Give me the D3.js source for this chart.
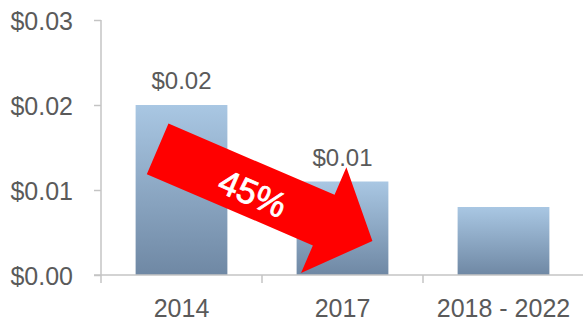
<!DOCTYPE html>
<html>
<head>
<meta charset="utf-8">
<script src="https://cdn.jsdelivr.net/npm/d3@7/dist/d3.min.js"></script>
<style>
  html, body { margin: 0; padding: 0; background: #fff; }
  svg { display: block; }
  text { font-family: "Liberation Sans", Arial, sans-serif; }
</style>
</head>
<body>
<svg id="chart" width="583" height="327"></svg>
<script>
// Cost per unit by period
const categories = ["2014", "2017", "2018 - 2022"];
const values = [0.02, 0.011, 0.008];
const valueLabels = ["$0.02", "$0.01", ""];
const yTicks = [0, 0.01, 0.02, 0.03];
const yTickLabels = ["$0.00", "$0.01", "$0.02", "$0.03"];
const reductionLabel = "45%";

const W = 583, H = 327;
const svg = d3.select("#chart");

const x = d3.scaleBand()
  .domain(categories)
  .range([101, 584])
  .paddingInner(0.43)
  .paddingOuter(0.215);

const y = d3.scaleLinear()
  .domain([0, 0.03])
  .range([275, 20]);

const axisColor = "#c4c4c4";
const textColor = "#5a5a5a";

// bar fill: light steel blue at the top fading to slate at the base
const defs = svg.append("defs");
const grad = defs.append("linearGradient")
  .attr("id", "barGrad")
  .attr("x1", 0).attr("y1", 0).attr("x2", 0).attr("y2", 1);
grad.append("stop").attr("offset", "0%").attr("stop-color", "#a9c7e3");
grad.append("stop").attr("offset", "100%").attr("stop-color", "#6f88a4");

// y axis
const yAxis = d3.axisLeft(y)
  .tickValues(yTicks)
  .tickSize(7)
  .tickFormat((d, i) => yTickLabels[i]);
const gy = svg.append("g")
  .attr("transform", `translate(${x.range()[0]},0)`)
  .call(yAxis);
gy.select(".domain").remove();
gy.selectAll(".tick line").attr("stroke", axisColor).attr("stroke-width", 1.5);
gy.selectAll(".tick text")
  .attr("x", -28)
  .attr("dy", "0.36em")
  .attr("fill", textColor)
  .style("font-size", "25px");
gy.append("line")
  .attr("x1", 0).attr("x2", 0)
  .attr("y1", y(0.03)).attr("y2", y(0) + 8)
  .attr("stroke", axisColor).attr("stroke-width", 1.5);

// bars
svg.append("g").selectAll("rect")
  .data(values)
  .join("rect")
  .attr("x", (d, i) => x(categories[i]))
  .attr("y", d => y(d))
  .attr("width", x.bandwidth())
  .attr("height", d => y(0) - y(d))
  .attr("fill", "url(#barGrad)");

// x axis baseline and category separators
svg.append("line")
  .attr("x1", x.range()[0] - 7).attr("x2", W)
  .attr("y1", y(0)).attr("y2", y(0))
  .attr("stroke", axisColor).attr("stroke-width", 1.5);
const step = x.step();
const seps = d3.range(1, categories.length).map(i => x.range()[0] + i * step);
svg.append("g").selectAll("line")
  .data(seps)
  .join("line")
  .attr("x1", d => d).attr("x2", d => d)
  .attr("y1", y(0)).attr("y2", y(0) + 8)
  .attr("stroke", axisColor).attr("stroke-width", 1.5);

// category labels
svg.append("g").selectAll("text")
  .data(categories)
  .join("text")
  .attr("x", d => x(d) + x.bandwidth() / 2)
  .attr("y", 317)
  .attr("text-anchor", "middle")
  .attr("fill", textColor)
  .style("font-size", "25px")
  .text(d => d);

// value labels above bars
svg.append("g").selectAll("text")
  .data(values)
  .join("text")
  .attr("x", (d, i) => x(categories[i]) + x.bandwidth() / 2)
  .attr("y", d => y(d) - 16)
  .attr("text-anchor", "middle")
  .attr("fill", textColor)
  .style("font-size", "24px")
  .text((d, i) => valueLabels[i]);

// reduction arrow from the 2014 bar down into the 2017 bar
const tail = [x("2014") + 0.24 * x.bandwidth(), y(0.01484)];
const tip = [x("2017") + 0.826 * x.bandwidth(), y(0.004)];
const dx = tip[0] - tail[0], dy = tip[1] - tail[1];
const len = Math.hypot(dx, dy);
const ang = Math.atan2(dy, dx) * 180 / Math.PI;
const shaftHalf = 27.5, headHalf = 57.5, headLen = 53;
const arrowPts = [
  [0, -shaftHalf],
  [len - headLen, -shaftHalf],
  [len - headLen, -headHalf],
  [len, 0],
  [len - headLen, headHalf],
  [len - headLen, shaftHalf],
  [0, shaftHalf]
];
const arrow = svg.append("g")
  .attr("transform", `translate(${tail[0]},${tail[1]}) rotate(${ang})`);
arrow.append("path")
  .attr("d", d3.line()(arrowPts) + "Z")
  .attr("fill", "#ff0000");
arrow.append("text")
  .attr("x", 105)
  .attr("y", 3)
  .attr("dy", "0.36em")
  .attr("text-anchor", "middle")
  .attr("fill", "#fff")
  .style("font-size", "35px")
  .style("stroke", "#fff")
  .style("stroke-width", 0.8)
  .text(reductionLabel);
</script>
</body>
</html>
